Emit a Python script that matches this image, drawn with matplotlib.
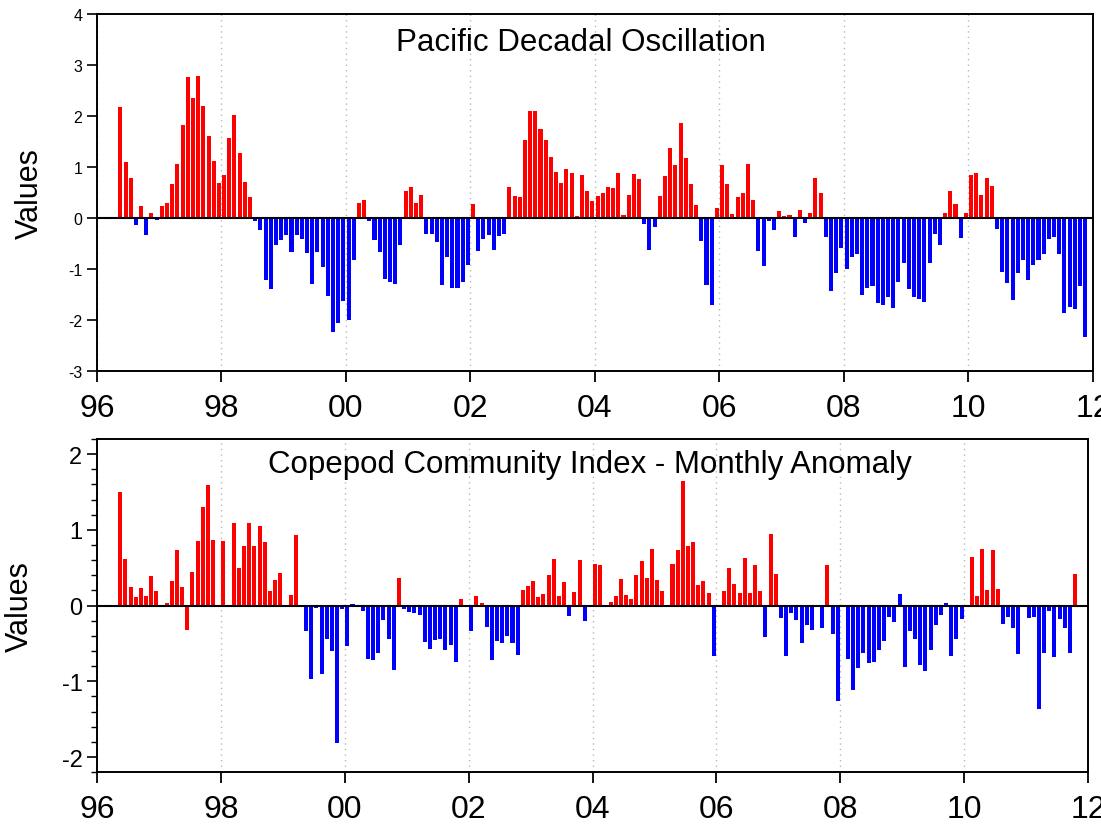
import numpy as np
import matplotlib
matplotlib.use('Agg')
import matplotlib.pyplot as plt
from matplotlib.ticker import MultipleLocator, FuncFormatter

'''
PDO and copepod community index, monthly bars, May 1996 - late 2011
'''
plt.rcParams['font.family'] = ['Liberation Sans', 'DejaVu Sans']
plt.rcParams['axes.unicode_minus'] = False

# Pacific Decadal Oscillation, monthly, starting May 1996 (ends Nov 2011)
pdo_start = (1996, 5)
pdo = [
    2.18, 1.10, 0.78, -0.14, 0.24, -0.34, 0.10, -0.03,                     # 1996 May-Dec
    0.24, 0.29, 0.66, 1.06, 1.83, 2.76, 2.35, 2.79, 2.19, 1.61, 1.12, 0.68,  # 1997
    0.84, 1.57, 2.01, 1.27, 0.71, 0.41, -0.05, -0.23, -1.21, -1.39, -0.52, -0.44,  # 1998
    -0.33, -0.66, -0.33, -0.42, -0.68, -1.30, -0.67, -0.96, -1.53, -2.23, -2.05, -1.63,  # 1999
    -2.00, -0.83, 0.29, 0.36, -0.05, -0.44, -0.66, -1.19, -1.25, -1.30, -0.53, 0.52,  # 2000
    0.61, 0.30, 0.46, -0.32, -0.31, -0.47, -1.31, -0.77, -1.37, -1.37, -1.26, -0.93,  # 2001
    0.28, -0.64, -0.42, -0.33, -0.63, -0.35, -0.32, 0.61, 0.44, 0.42, 1.52, 2.10,  # 2002
    2.09, 1.75, 1.52, 1.19, 0.90, 0.69, 0.97, 0.89, 0.03, 0.84, 0.52, 0.34,  # 2003
    0.43, 0.49, 0.61, 0.58, 0.89, 0.05, 0.45, 0.86, 0.76, -0.11, -0.63, -0.18,  # 2004
    0.44, 0.82, 1.37, 1.03, 1.86, 1.17, 0.67, 0.25, -0.46, -1.32, -1.71, 0.20,  # 2005
    1.03, 0.67, 0.07, 0.41, 0.49, 1.05, 0.36, -0.65, -0.95, -0.06, -0.23, 0.14,  # 2006
    0.03, 0.05, -0.37, 0.16, -0.10, 0.10, 0.78, 0.50, -0.37, -1.44, -1.07, -0.58,  # 2007
    -0.99, -0.76, -0.71, -1.51, -1.37, -1.34, -1.67, -1.70, -1.54, -1.76, -1.25, -0.88,  # 2008
    -1.39, -1.54, -1.58, -1.64, -0.88, -0.31, -0.53, 0.10, 0.52, 0.28, -0.40, 0.09,  # 2009
    0.84, 0.88, 0.45, 0.78, 0.62, -0.22, -1.05, -1.27, -1.60, -1.07, -0.82, -1.21,  # 2010
    -0.92, -0.83, -0.70, -0.42, -0.37, -0.70, -1.86, -1.74, -1.78, -1.34, -2.33,  # 2011 Jan-Nov
]

# Copepod community index anomaly, monthly from May 1996 (nan = no sample)
nan = np.nan
cci_start = (1996, 5)
cci = [
    1.50, 0.62, 0.24, 0.11, 0.23, 0.12, 0.39, 0.19,                         # 1996 May-Dec
    nan, 0.04, 0.32, 0.74, 0.24, -0.32, 0.44, 0.85, 1.30, 1.59, 0.86, nan,   # 1997
    0.85, nan, 1.09, 0.49, 0.78, 1.09, 0.79, 1.05, 0.84, 0.19, 0.34, 0.43,   # 1998
    nan, 0.14, 0.93, 0.01, -0.34, -0.97, -0.03, -0.90, -0.44, -0.60, -1.81, -0.05,  # 1999
    -0.53, 0.02, nan, -0.07, -0.71, -0.72, -0.63, -0.19, -0.44, -0.85, 0.36, -0.05,  # 2000
    -0.08, -0.10, -0.12, -0.48, -0.58, -0.46, -0.44, -0.59, -0.52, -0.75, 0.08, nan,  # 2001
    -0.33, 0.12, 0.03, -0.28, -0.72, -0.47, -0.50, -0.40, -0.49, -0.65, 0.21, 0.26,  # 2002
    0.33, 0.11, 0.15, 0.40, 0.61, 0.12, 0.31, -0.14, 0.18, 0.60, -0.20, nan,  # 2003
    0.55, 0.53, 0.01, 0.05, 0.13, 0.35, 0.14, 0.09, 0.40, 0.59, 0.37, 0.75,  # 2004
    0.34, 0.19, -0.02, 0.55, 0.74, 1.65, 0.78, 0.84, 0.27, 0.32, 0.16, -0.66,  # 2005
    nan, 0.19, 0.50, 0.29, 0.16, 0.63, 0.16, 0.54, 0.19, -0.41, 0.94, 0.42,  # 2006
    -0.16, -0.67, -0.10, -0.19, -0.49, -0.26, -0.32, -0.01, -0.30, 0.54, -0.38, -1.26,  # 2007
    nan, -0.70, -1.12, -0.83, -0.62, -0.76, -0.74, -0.59, -0.47, -0.15, -0.22, 0.15,  # 2008
    -0.81, -0.34, -0.44, -0.79, -0.86, -0.59, -0.26, -0.13, 0.03, -0.66, -0.44, -0.18,  # 2009
    nan, 0.64, 0.13, 0.75, 0.21, 0.74, 0.22, -0.25, -0.15, -0.29, -0.64, nan,  # 2010
    -0.16, -0.15, -1.37, -0.63, -0.07, -0.68, -0.18, -0.30, -0.63, 0.42,  # 2011 Jan-Oct
]
# months where the bar colour does not follow the sign
cci_flip = [(1997, 6), (2000, 2), (2005, 3), (2008, 12), (2009, 9)]

titles = ['Pacific Decadal Oscillation', 'Copepod Community Index - Monthly Anomaly']
year_ticks = list(range(1996, 2013, 2))


def month_x(start, n):
    # bar centres at mid-month, in decimal years
    y0, m0 = start
    k = np.arange(n) + (m0 - 1)
    return y0 + (k + 0.5) / 12.0


def bar_colors(start, vals, flip):
    cols = []
    y0, m0 = start
    for i, v in enumerate(vals):
        yr = y0 + (m0 - 1 + i) // 12
        mo = (m0 - 1 + i) % 12 + 1
        pos = v >= 0
        if (yr, mo) in flip:
            pos = not pos
        cols.append('#ff0000' if pos else '#0000ff')
    return cols


def style_axes(ax, ylabsize):
    ax.set_xlim(1996, 2012)
    ax.set_xticks(year_ticks)
    ax.xaxis.set_major_formatter(FuncFormatter(lambda v, p: '%02d' % (int(round(v)) % 100)))
    ax.grid(axis='x', color='#b8b8b8', linestyle=(0, (1, 3)), linewidth=1)
    ax.set_axisbelow(True)
    ax.axhline(0, color='k', lw=1.5, zorder=3)
    for s in ax.spines.values():
        s.set_linewidth(1.4)
    ax.tick_params(axis='x', direction='out', length=8, width=1.3, labelsize=23, pad=8)
    ax.tick_params(axis='y', which='major', direction='out', length=7, width=1.2, labelsize=ylabsize)
    ax.tick_params(axis='y', which='minor', direction='out', length=4, width=1.0)


fig = plt.figure(figsize=(11.01, 8.28), dpi=100)

# top panel: PDO
ax1 = fig.add_axes([0.0881, 0.5507, 0.9046, 0.4312])
x1 = month_x(pdo_start, len(pdo))
ax1.bar(x1, pdo, width=0.065, color=bar_colors(pdo_start, pdo, []), linewidth=0, zorder=2)
ax1.set_ylim(-3, 4)
ax1.yaxis.set_major_locator(MultipleLocator(1))
style_axes(ax1, 11.5)
ax1.set_ylabel('Values', fontsize=22)
ax1.yaxis.set_label_coords(-0.052, 0.5)
ax1.text(0.486, 0.922, titles[0], transform=ax1.transAxes, fontsize=22.5,
         ha='center', va='center')

# bottom panel: copepod index
ax2 = fig.add_axes([0.0881, 0.0662, 0.9001, 0.4025])
cci_arr = np.array(cci, dtype=float)
x2 = month_x(cci_start, len(cci_arr))
ok = ~np.isnan(cci_arr)
cols2 = np.array(bar_colors(cci_start, np.nan_to_num(cci_arr), cci_flip))
ax2.bar(x2[ok], cci_arr[ok], width=0.065, color=cols2[ok], linewidth=0, zorder=2)
ax2.set_ylim(-2.2, 2.2)
ax2.yaxis.set_major_locator(MultipleLocator(1))
ax2.yaxis.set_minor_locator(MultipleLocator(0.2))
style_axes(ax2, 17)
ax2.set_ylabel('Values', fontsize=22)
ax2.yaxis.set_label_coords(-0.0626, 0.5)
ax2.text(0.4975, 0.925, titles[1], transform=ax2.transAxes, fontsize=22.5,
         ha='center', va='center')

fig.savefig('out.png', dpi=100)
